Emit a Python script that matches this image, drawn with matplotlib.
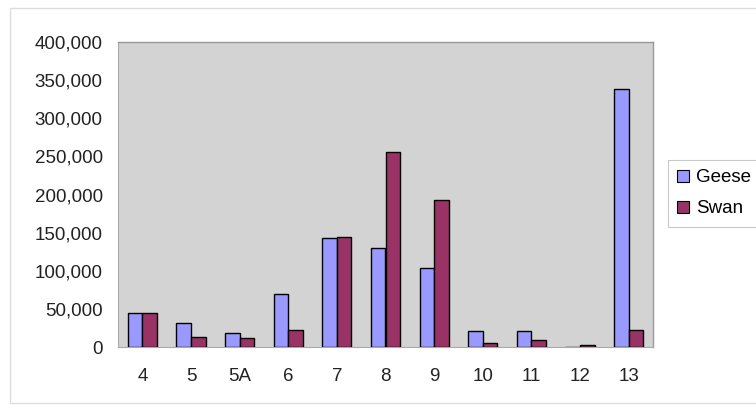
import matplotlib
matplotlib.use("Agg")
import matplotlib.pyplot as plt
from matplotlib.patches import Rectangle
from matplotlib.ticker import FuncFormatter, MultipleLocator
import numpy as np

plt.rcParams['font.family'] = ['Liberation Sans', 'DejaVu Sans']

categories = ["4", "5", "5A", "6", "7", "8", "9", "10", "11", "12", "13"]
geese = [44000, 31000, 18000, 69000, 143000, 130000, 104000, 21000, 21000, 500, 338000]
swan = [44000, 13000, 12000, 22000, 144000, 256000, 193000, 5000, 9000, 2000, 22000]

geese_color = "#9999FF"
swan_color = "#993366"

fig = plt.figure(figsize=(7.56, 4.11), dpi=100)
fig.patch.set_facecolor("white")

# chart frame
fig.patches.append(Rectangle((10 / 756, 8 / 411), 760 / 756, 395 / 411,
                             transform=fig.transFigure, fill=False,
                             edgecolor="#dddddd", linewidth=1.0))

ax = fig.add_axes([118 / 756, 64 / 411, 535 / 756, 305 / 411])
ax.set_facecolor("#d3d3d3")

x = np.arange(len(categories))
w = 0.3
ax.bar(x - w / 2, geese, width=w, color=geese_color, edgecolor="black",
       linewidth=1.0, label="Geese", zorder=3)
ax.bar(x + w / 2, swan, width=w, color=swan_color, edgecolor="black",
       linewidth=1.0, label="Swan", zorder=3)

ax.set_xlim(-0.5, len(categories) - 0.5)
ax.set_ylim(0, 400000)
ax.yaxis.set_major_locator(MultipleLocator(50000))
ax.yaxis.set_major_formatter(FuncFormatter(lambda v, p: f"{int(v):,}"))
ax.set_xticks(x)
ax.set_xticklabels(categories)
ax.tick_params(axis="both", labelsize=13.5, colors="#222222", length=0)
ax.tick_params(axis="x", pad=15)
ax.tick_params(axis="y", pad=11)

for side in ["top", "right"]:
    ax.spines[side].set_color("#999999")
    ax.spines[side].set_linewidth(1.0)
ax.spines["left"].set_color("#aaaaaa")
ax.spines["bottom"].set_color("#aaaaaa")

leg = ax.legend(loc="upper left", bbox_to_anchor=(668 / 756, 251 / 411),
                bbox_transform=fig.transFigure, frameon=True, fancybox=False,
                fontsize=13.5, handlelength=0.6, handleheight=0.6,
                handletextpad=0.4, labelspacing=0.75, borderpad=0.5,
                borderaxespad=0)
leg.get_frame().set_edgecolor("#bbbbbb")
leg.get_frame().set_linewidth(0.8)
for h in leg.legend_handles:
    h.set_edgecolor("black")
    h.set_linewidth(0.8)

fig.savefig("out.png", dpi=100)
